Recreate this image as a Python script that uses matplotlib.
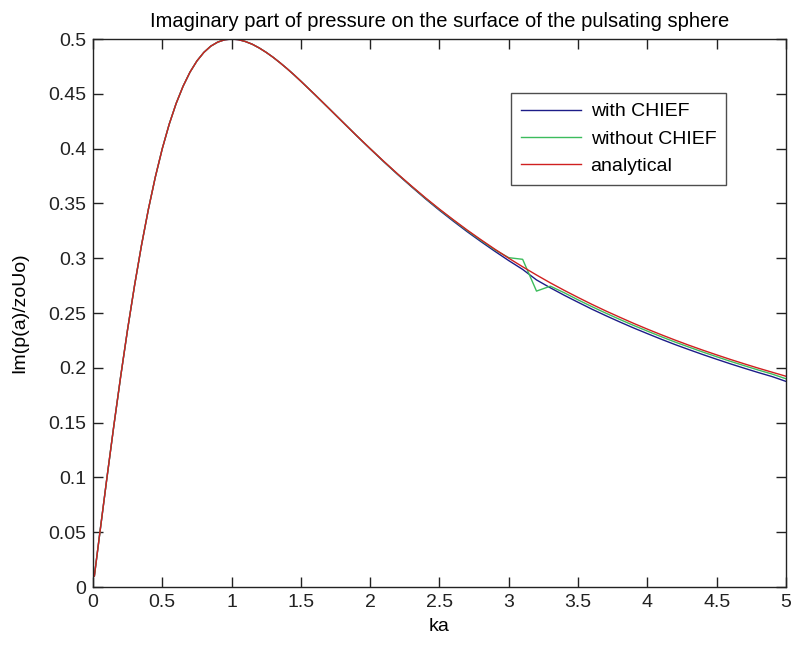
import matplotlib
matplotlib.use("Agg")
import matplotlib.pyplot as plt
from matplotlib.ticker import FixedLocator

plt.rcParams['font.family'] = ['Liberation Sans', 'DejaVu Sans']

# ---- data ----
ka = [0.01, 0.05, 0.1, 0.15, 0.2, 0.25, 0.3, 0.35, 0.4, 0.45, 0.5,
      0.55, 0.6, 0.65, 0.7, 0.75, 0.8, 0.85, 0.9, 0.95, 1.0,
      1.05, 1.1, 1.15, 1.2, 1.25, 1.3, 1.35, 1.4, 1.45, 1.5,
      1.6, 1.7, 1.8, 1.9, 2.0,
      2.1, 2.2, 2.3, 2.4, 2.5, 2.6, 2.7, 2.8, 2.9, 3.0,
      3.1, 3.2, 3.3, 3.4, 3.5, 3.6, 3.7, 3.8, 3.9, 4.0,
      4.1, 4.2, 4.3, 4.4, 4.5, 4.6, 4.7, 4.8, 4.9, 5.0]

analytical = [0.0100, 0.0499, 0.0990, 0.1467, 0.1923, 0.2353, 0.2752, 0.3118, 0.3448, 0.3742, 0.4000,
              0.4223, 0.4412, 0.4569, 0.4698, 0.4800, 0.4878, 0.4935, 0.4972, 0.4993, 0.5000,
              0.4994, 0.4977, 0.4952, 0.4918, 0.4878, 0.4833, 0.4783, 0.4730, 0.4674, 0.4615,
              0.4494, 0.4370, 0.4245, 0.4121, 0.4000,
              0.3882, 0.3767, 0.3657, 0.3550, 0.3448, 0.3351, 0.3257, 0.3168, 0.3082, 0.3000,
              0.2922, 0.2847, 0.2775, 0.2707, 0.2642, 0.2579, 0.2519, 0.2462, 0.2406, 0.2353,
              0.2302, 0.2253, 0.2206, 0.2161, 0.2118, 0.2076, 0.2036, 0.1997, 0.1960, 0.1923]

with_chief = [0.0100, 0.0499, 0.0990, 0.1467, 0.1923, 0.2353, 0.2752, 0.3118, 0.3448, 0.3742, 0.4000,
              0.4223, 0.4412, 0.4569, 0.4698, 0.4800, 0.4878, 0.4935, 0.4972, 0.4993, 0.5000,
              0.4994, 0.4977, 0.4952, 0.4918, 0.4878, 0.4833, 0.4783, 0.4730, 0.4674, 0.4615,
              0.4494, 0.4370, 0.4245, 0.4120, 0.3998,
              0.3878, 0.3762, 0.3650, 0.3541, 0.3437, 0.3338, 0.3242, 0.3151, 0.3063, 0.2978,
              0.2898, 0.2802, 0.2730, 0.2662, 0.2598, 0.2535, 0.2476, 0.2419, 0.2364, 0.2312,
              0.2261, 0.2212, 0.2166, 0.2121, 0.2078, 0.2036, 0.1996, 0.1957, 0.1920, 0.1876]

without_chief = [0.0100, 0.0499, 0.0990, 0.1467, 0.1923, 0.2353, 0.2752, 0.3118, 0.3448, 0.3742, 0.4000,
                 0.4223, 0.4412, 0.4569, 0.4698, 0.4800, 0.4878, 0.4935, 0.4972, 0.4995, 0.5003,
                 0.4996, 0.4977, 0.4952, 0.4918, 0.4878, 0.4833, 0.4783, 0.4730, 0.4674, 0.4615,
                 0.4494, 0.4370, 0.4245, 0.4121, 0.4000,
                 0.3880, 0.3765, 0.3654, 0.3546, 0.3444, 0.3347, 0.3252, 0.3162, 0.3076, 0.3005,
                 0.2990, 0.2700, 0.2745, 0.2685, 0.2620, 0.2558, 0.2499, 0.2442, 0.2387, 0.2335,
                 0.2284, 0.2235, 0.2189, 0.2144, 0.2101, 0.2059, 0.2019, 0.1980, 0.1943, 0.1900]

series_labels = ['with CHIEF', 'without CHIEF', 'analytical']
xticks = [0, 0.5, 1, 1.5, 2, 2.5, 3, 3.5, 4, 4.5, 5]
xticklabels = ['0', '0.5', '1', '1.5', '2', '2.5', '3', '3.5', '4', '4.5', '5']
yticks = [0, 0.05, 0.1, 0.15, 0.2, 0.25, 0.3, 0.35, 0.4, 0.45, 0.5]
yticklabels = ['0', '0.05', '0.1', '0.15', '0.2', '0.25', '0.3', '0.35', '0.4', '0.45', '0.5']

# ---- figure ----
fig = plt.figure(figsize=(7.92, 6.45), dpi=100)
ax = fig.add_axes([0.1174, 0.0899, 0.8750, 0.8496])

ax.plot(ka, with_chief, color='#1c1c88', lw=1.0, label=series_labels[0])
ax.plot(ka, without_chief, color='#3cbc5c', lw=1.0, label=series_labels[1])
ax.plot(ka, analytical, color='#d02020', lw=1.0, label=series_labels[2])

ax.set_xlim(0, 5)
ax.set_ylim(0, 0.5)
ax.xaxis.set_major_locator(FixedLocator(xticks))
ax.yaxis.set_major_locator(FixedLocator(yticks))
ax.set_xticklabels(xticklabels)
ax.set_yticklabels(yticklabels)
ax.tick_params(direction='in', length=7, width=1, top=True, right=True,
               labelsize=14, pad=5, colors='#222222')
for s in ax.spines.values():
    s.set_linewidth(1.0)
    s.set_color('#222222')

ax.set_title('Imaginary part of pressure on the surface of the pulsating sphere',
             fontsize=14.5, pad=9)
ax.set_xlabel('ka', fontsize=14, labelpad=5)
ax.set_ylabel('Im(p(a)/zoUo)', fontsize=14, labelpad=14)

leg = ax.legend(loc='upper left', bbox_to_anchor=(0.603, 0.9015), fontsize=14,
                frameon=True, fancybox=False, handlelength=3.1, handletextpad=0.5,
                borderpad=0.5, labelspacing=0.5, borderaxespad=0)
leg.get_frame().set_edgecolor('#222222')
leg.get_frame().set_linewidth(1.0)

fig.savefig('out.png', dpi=100)
